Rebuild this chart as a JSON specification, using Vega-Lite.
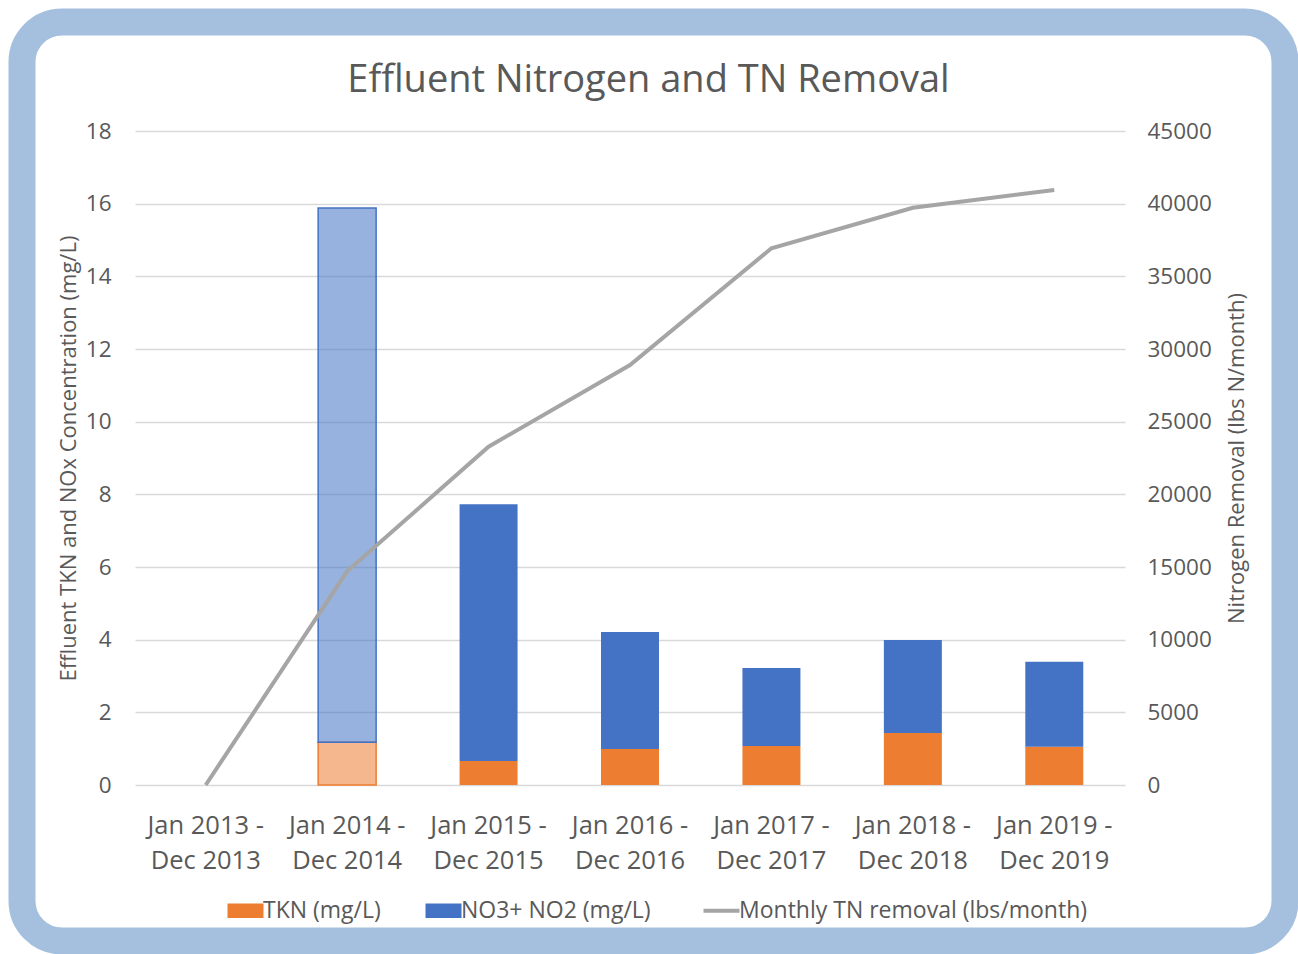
{
  "$schema": "https://vega.github.io/schema/vega-lite/v6.json",
  "width": 1263,
  "height": 919,
  "autosize": {"type": "none"},
  "padding": {"left": 22, "top": 22, "right": 13, "bottom": 13},
  "background": "white",
  "config": {
    "view": {"stroke": "#a5bfdf", "strokeWidth": 27, "cornerRadius": 40, "fill": "white"},
    "font": "Open Sans",
    "text": {"font": "Open Sans"}
  },
  "title": {
    "text": "Effluent Nitrogen and TN Removal",
    "frame": "group",
    "anchor": "middle",
    "orient": "top",
    "offset": -78,
    "dx": -5,
    "fontSize": 38,
    "fontWeight": "normal",
    "font": "Open Sans",
    "color": "#595959"
  },
  "datasets": {
    "bars": [
      {"period": "Jan 2014 - Dec 2014", "series": "TKN (mg/L)", "value": 1.18},
      {"period": "Jan 2014 - Dec 2014", "series": "NO3+ NO2 (mg/L)", "value": 14.70},
      {"period": "Jan 2015 - Dec 2015", "series": "TKN (mg/L)", "value": 0.66},
      {"period": "Jan 2015 - Dec 2015", "series": "NO3+ NO2 (mg/L)", "value": 7.07},
      {"period": "Jan 2016 - Dec 2016", "series": "TKN (mg/L)", "value": 0.99},
      {"period": "Jan 2016 - Dec 2016", "series": "NO3+ NO2 (mg/L)", "value": 3.22},
      {"period": "Jan 2017 - Dec 2017", "series": "TKN (mg/L)", "value": 1.07},
      {"period": "Jan 2017 - Dec 2017", "series": "NO3+ NO2 (mg/L)", "value": 2.15},
      {"period": "Jan 2018 - Dec 2018", "series": "TKN (mg/L)", "value": 1.43},
      {"period": "Jan 2018 - Dec 2018", "series": "NO3+ NO2 (mg/L)", "value": 2.56},
      {"period": "Jan 2019 - Dec 2019", "series": "TKN (mg/L)", "value": 1.05},
      {"period": "Jan 2019 - Dec 2019", "series": "NO3+ NO2 (mg/L)", "value": 2.34}
    ],
    "line": [
      {"period": "Jan 2013 - Dec 2013", "removal": 0},
      {"period": "Jan 2014 - Dec 2014", "removal": 14700},
      {"period": "Jan 2015 - Dec 2015", "removal": 23280},
      {"period": "Jan 2016 - Dec 2016", "removal": 28900},
      {"period": "Jan 2017 - Dec 2017", "removal": 36930},
      {"period": "Jan 2018 - Dec 2018", "removal": 39720},
      {"period": "Jan 2019 - Dec 2019", "removal": 40940}
    ]
  },
  "layer": [
    {
      "data": {"name": "bars"},
      "mark": {"type": "bar"},
      "encoding": {
        "x": {
          "field": "period",
          "type": "nominal",
          "scale": {
            "domain": ["Jan 2013 - Dec 2013", "Jan 2014 - Dec 2014", "Jan 2015 - Dec 2015", "Jan 2016 - Dec 2016", "Jan 2017 - Dec 2017", "Jan 2018 - Dec 2018", "Jan 2019 - Dec 2019"],
            "range": [113, 1103],
            "paddingInner": 0.59,
            "paddingOuter": 0.295
          },
          "axis": {
            "orient": "bottom",
            "offset": -156,
            "title": null,
            "domain": false,
            "ticks": false,
            "grid": false,
            "labelAngle": 0,
            "labelPadding": 28,
            "labelFontSize": 25.5,
            "labelFont": "Open Sans",
            "labelColor": "#595959",
            "labelLineHeight": 35,
            "labelExpr": "[substring(datum.label,0,10), substring(datum.label,11)]"
          }
        },
        "y": {
          "field": "value",
          "type": "quantitative",
          "stack": "zero",
          "scale": {"domain": [0, 18], "range": [763, 109], "nice": false, "zero": true},
          "axis": {
            "orient": "left",
            "offset": -113,
            "values": [0, 2, 4, 6, 8, 10, 12, 14, 16, 18],
            "title": "Effluent TKN and NOx Concentration (mg/L)",
            "titleFontSize": 22,
            "titleFont": "Open Sans",
            "titleFontWeight": "normal",
            "titleColor": "#595959",
            "titlePadding": 5,
            "grid": true,
            "gridColor": "#d9d9d9",
            "gridWidth": 1.5,
            "domain": false,
            "ticks": false,
            "labelPadding": 24,
            "labelFontSize": 22.5,
            "labelFont": "Open Sans",
            "labelColor": "#595959"
          }
        },
        "color": {
          "field": "series",
          "type": "nominal",
          "scale": {
            "domain": ["TKN (mg/L)", "NO3+ NO2 (mg/L)", "Monthly TN removal (lbs/month)"],
            "range": ["#ed7d31", "#4472c4", "#a5a5a5"]
          },
          "legend": {
            "orient": "none",
            "legendX": 212,
            "legendY": 877,
            "direction": "horizontal",
            "title": null,
            "padding": 0,
            "labelFontSize": 23,
            "labelFont": "Open Sans",
            "labelColor": "#595959",
            "symbolType": "M-1,-0.4H1V0.4H-1Z",
            "symbolSize": 1296,
            "labelOffset": 6,
            "columnPadding": 44,
            "labelLimit": 500,
            "encode": {
              "symbols": {
                "update": {
                  "shape": {"signal": "datum.value === 'Monthly TN removal (lbs/month)' ? 'M-1,0H1' : 'M-1,-0.4H1V0.4H-1Z'"},
                  "fill": {"signal": "datum.value === 'Monthly TN removal (lbs/month)' ? 'transparent' : scale('color', datum.value)"},
                  "stroke": {"signal": "scale('color', datum.value)"},
                  "strokeWidth": {"signal": "datum.value === 'Monthly TN removal (lbs/month)' ? 4 : 0"},
                  "fillOpacity": {"value": 1},
                  "opacity": {"value": 1}
                }
              }
            }
          }
        },
        "order": {"field": "series", "sort": "descending"},
        "fillOpacity": {
          "condition": {"test": "datum.period === 'Jan 2014 - Dec 2014'", "value": 0.55},
          "value": 1
        },
        "stroke": {
          "field": "series",
          "type": "nominal",
          "scale": {"domain": ["TKN (mg/L)", "NO3+ NO2 (mg/L)"], "range": ["#ed7d31", "#4472c4"]},
          "legend": null
        },
        "strokeWidth": {
          "condition": {"test": "datum.period === 'Jan 2014 - Dec 2014'", "value": 1.5},
          "value": 0
        }
      }
    },
    {
      "data": {"name": "line"},
      "mark": {"type": "line", "strokeWidth": 4},
      "encoding": {
        "x": {"field": "period", "type": "nominal"},
        "y": {
          "field": "removal",
          "type": "quantitative",
          "scale": {"domain": [0, 45000], "range": [763, 109], "nice": false},
          "axis": {
            "orient": "right",
            "offset": -160,
            "values": [0, 5000, 10000, 15000, 20000, 25000, 30000, 35000, 40000, 45000],
            "format": "d",
            "title": "Nitrogen Removal (lbs N/month)",
            "titleAngle": 270,
            "titleBaseline": "top",
            "titleFontSize": 22,
            "titleFont": "Open Sans",
            "titleFontWeight": "normal",
            "titleColor": "#595959",
            "titlePadding": 15,
            "grid": false,
            "domain": false,
            "ticks": false,
            "labelPadding": 22,
            "labelFontSize": 22.5,
            "labelFont": "Open Sans",
            "labelColor": "#595959"
          }
        },
        "color": {"datum": "Monthly TN removal (lbs/month)", "type": "nominal"}
      }
    }
  ],
  "resolve": {"scale": {"y": "independent", "stroke": "independent"}}
}
